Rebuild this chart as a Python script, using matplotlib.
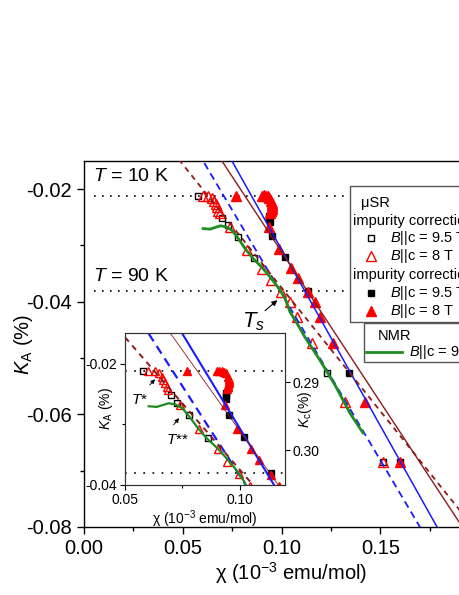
import numpy as np
import matplotlib
matplotlib.use("Agg")
import matplotlib.pyplot as plt
from matplotlib.lines import Line2D
from matplotlib.patches import Rectangle
from matplotlib.ticker import FormatStrFormatter, MultipleLocator

plt.rcParams['font.family'] = ['Liberation Sans', 'DejaVu Sans']
plt.rcParams['mathtext.fontset'] = 'custom'
plt.rcParams['mathtext.rm'] = 'Liberation Sans'
plt.rcParams['mathtext.it'] = 'Liberation Sans:italic'
plt.rcParams['mathtext.bf'] = 'Liberation Sans:bold'
plt.rcParams['axes.unicode_minus'] = False

# ---------------- data ----------------
# open symbols (muSR, impurity corrected)
open_sq_chi = [0.0578, 0.0701, 0.0728, 0.0778, 0.0863, 0.1230, 0.1514]
open_sq_K = [-0.0212, -0.0252, -0.0264, -0.0285, -0.0322, -0.0527, -0.0685]
open_tri_chi = [0.0601, 0.0630, 0.0649, 0.0660, 0.0667, 0.0674, 0.0681, 0.0688,
                0.0739, 0.0823, 0.0903, 0.0945, 0.0995, 0.1043, 0.1078, 0.1154,
                0.1322, 0.1514]
open_tri_K = [-0.0212, -0.0212, -0.0215, -0.0221, -0.0226, -0.0232, -0.0238, -0.0243,
              -0.0268, -0.0308, -0.0341, -0.0362, -0.0382, -0.0401, -0.0427, -0.0474,
              -0.0578, -0.0685]
# filled symbols (muSR, second set)
fill_sq_chi = [0.0938, 0.0938, 0.0940, 0.0952, 0.1018, 0.1134, 0.1342, 0.1600]
fill_sq_K = [-0.0248, -0.0252, -0.0258, -0.0284, -0.0321, -0.0381, -0.0527, -0.0685]
fill_tri_chi = [0.0770, 0.0900, 0.0910, 0.0922, 0.0930, 0.0938, 0.0949, 0.0953,
                0.0954, 0.0952, 0.0950, 0.0947, 0.0943, 0.0935, 0.0987, 0.1048,
                0.1084, 0.1134, 0.1170, 0.1195, 0.1261, 0.1423, 0.1600]
fill_tri_K = [-0.0212, -0.0212, -0.0211, -0.0212, -0.0213, -0.0215, -0.0221, -0.0225,
              -0.0228, -0.0232, -0.0235, -0.0238, -0.0242, -0.0268, -0.0307, -0.0340,
              -0.0358, -0.0383, -0.0401, -0.0427, -0.0474, -0.0578, -0.0685]
# NMR curve
nmr_chi = [0.0603, 0.0638, 0.0673, 0.0690, 0.0719, 0.0749, 0.0780, 0.0815, 0.0856,
           0.0901, 0.0942, 0.0982, 0.1018, 0.1043, 0.1078, 0.1119, 0.1195, 0.1271,
           0.1347, 0.1413]
nmr_K = [-0.0270, -0.0271, -0.0267, -0.0265, -0.0267, -0.0273, -0.0287, -0.0305,
         -0.0323, -0.0339, -0.0356, -0.0374, -0.0394, -0.0418, -0.0438, -0.0463,
         -0.0504, -0.0548, -0.0598, -0.0633]
# linear fits  K = a + b*chi
fit_a = [0.0319, 0.0207, 0.0223, 0.0063]
fit_b = [-0.626, -0.592, -0.534, -0.438]
fit_color = ['#1a1aff', '#1a1aff', '#8b1a1a', '#8b1a1a']
fit_style = ['-', (0, (4, 2.6)), '-', (0, (3, 2.6))]
# reference temperatures
K_10K = -0.0212
K_90K = -0.0381

BLUE = '#1a1aff'
RED = '#ff0000'
GREEN = '#1e8c1e'

W, H = 460, 595
fig = plt.figure(figsize=(W / 100, H / 100), dpi=100)


def fx(px):
    return px / W


def fy(py):
    return 1 - py / H


ax = fig.add_axes([fx(84), fy(527), 395 / W, 366 / H])
ax.set_xlim(0, 0.2)
ax.set_ylim(-0.08, -0.015)

xs = np.linspace(0, 0.2, 200)
lws = [1.1, 1.3, 1.0, 1.3]
for a, b, c, s, lw in zip(fit_a, fit_b, fit_color, fit_style, lws):
    ax.plot(xs, a + b * xs, color=c, ls=s, lw=lw, zorder=4)

ax.hlines([K_10K, K_90K], 0.005, 0.2, colors='k', linestyles=[(0, (1, 3.8))], lw=1.2, zorder=1)

ms_sq, ms_tri = 5, 6.5
ax.plot(open_sq_chi, open_sq_K, 's', ms=ms_sq, mfc='none', mec='k', mew=1.0, zorder=3)
ax.plot(open_tri_chi, open_tri_K, '^', ms=ms_tri, mfc='none', mec=RED, mew=1.0, zorder=3)
ax.plot(fill_sq_chi, fill_sq_K, 's', ms=ms_sq, mfc='k', mec='k', zorder=3)
ax.plot(fill_tri_chi, fill_tri_K, '^', ms=ms_tri, mfc=RED, mec=RED, zorder=3)
ax.plot(nmr_chi, nmr_K, '-', color=GREEN, lw=2.0, zorder=5)

ax.text(0.0046, -0.0177, '$T$ = 10 K', fontsize=14, va='center', ha='left')
ax.text(0.0046, -0.0356, '$T$ = 90 K', fontsize=14, va='center', ha='left')
ax.text(0.086, -0.0436, '$T_s$', fontsize=16, va='center', ha='center')
ax.annotate('', xy=(0.0990, -0.0394), xytext=(0.0906, -0.0419),
            arrowprops=dict(arrowstyle='-|>', color='k', lw=0.8, mutation_scale=8))

ax.xaxis.set_major_locator(MultipleLocator(0.05))
ax.xaxis.set_minor_locator(MultipleLocator(0.025))
ax.yaxis.set_major_locator(MultipleLocator(0.02))
ax.yaxis.set_minor_locator(MultipleLocator(0.01))
ax.xaxis.set_major_formatter(FormatStrFormatter('%.2f'))
ax.yaxis.set_major_formatter(FormatStrFormatter('%.2f'))
ax.tick_params(which='major', direction='out', length=5, width=1.0, labelsize=14.5)
ax.tick_params(which='minor', direction='out', length=3, width=1.0)
for sp in ax.spines.values():
    sp.set_linewidth(1.0)
ax.set_xlabel('χ (10$^{-3}$ emu/mol)', fontsize=14.5)
ax.xaxis.set_label_coords(0.525, -0.09)
ax.set_ylabel('$K$$_\\mathrm{A}$ (%)', fontsize=14.5)
ax.yaxis.set_label_coords(-0.125, 0.5)

# ---------------- inset ----------------
ia = fig.add_axes([fx(125), fy(485), 160 / W, 152 / H])
ia.set_facecolor('white')
ia.set_xlim(0.05, 0.1196)
ia.set_ylim(-0.04, -0.0149)
xi = np.linspace(0.05, 0.12, 100)
ilws = [1.5, 1.6, 0.6, 1.4]
for a, b, c, s, lw in zip(fit_a, fit_b, fit_color, fit_style, ilws):
    ia.plot(xi, a + b * xi, color=c, ls=s, lw=lw, zorder=4)
ia.hlines([K_10K, K_90K], 0.05, 0.12, colors='k', linestyles=[(0, (1, 4.5))], lw=1.2, zorder=1)
ms_sq_i, ms_tri_i = 4.5, 6
ia.plot(open_sq_chi, open_sq_K, 's', ms=ms_sq_i, mfc='none', mec='k', mew=1.0, zorder=3)
ia.plot(open_tri_chi, open_tri_K, '^', ms=ms_tri_i, mfc='none', mec=RED, mew=1.0, zorder=3)
ia.plot(fill_sq_chi, fill_sq_K, 's', ms=ms_sq_i, mfc='k', mec='k', zorder=3)
ia.plot(fill_tri_chi, fill_tri_K, '^', ms=ms_tri_i, mfc=RED, mec=RED, zorder=3)
ia.plot(nmr_chi, nmr_K, '-', color=GREEN, lw=1.6, zorder=5)

ia.text(0.0565, -0.0260, '$T$*', fontsize=11, ha='center', va='center')
ia.annotate('', xy=(0.0639, -0.0222), xytext=(0.0600, -0.0238),
            arrowprops=dict(arrowstyle='-|>', color='k', lw=0.7, mutation_scale=6))
ia.text(0.0726, -0.0326, '$T$**', fontsize=11, ha='center', va='center')
ia.annotate('', xy=(0.0743, -0.0286), xytext=(0.0704, -0.0304),
            arrowprops=dict(arrowstyle='-|>', color='k', lw=0.7, mutation_scale=6))

ia.xaxis.set_major_locator(MultipleLocator(0.05))
ia.xaxis.set_minor_locator(MultipleLocator(0.025))
ia.yaxis.set_major_locator(MultipleLocator(0.02))
ia.yaxis.set_minor_locator(MultipleLocator(0.01))
ia.xaxis.set_major_formatter(FormatStrFormatter('%.2f'))
ia.yaxis.set_major_formatter(FormatStrFormatter('%.2f'))
ia.tick_params(which='major', direction='out', length=3.5, width=0.8, labelsize=10, pad=2)
ia.tick_params(which='minor', direction='out', length=2, width=0.8)
for sp in ia.spines.values():
    sp.set_linewidth(0.8)
    sp.set_edgecolor('#333333')
ia.set_xlabel('χ (10$^{-3}$ emu/mol)', fontsize=10, labelpad=1)
ia.set_ylabel('$K$$_\\mathrm{A}$ (%)', fontsize=10)
ia.yaxis.set_label_coords(-0.065, 0.5)

ir = ia.twinx()
ir.set_ylim(0.3051, 0.2828)
ir.set_yticks([0.29, 0.30])
ir.yaxis.set_major_formatter(FormatStrFormatter('%.2f'))
ir.tick_params(which='major', direction='out', length=3.5, width=0.8, labelsize=10, pad=2)
ir.set_ylabel('$K$$_\\mathrm{c}$(%)', fontsize=10)
ir.yaxis.set_label_coords(1.07, 0.5)
for sp in ir.spines.values():
    sp.set_linewidth(0.8)
    sp.set_edgecolor('#333333')

# ---------------- legends (drawn by hand) ----------------
fig.add_artist(Rectangle((fx(350), fy(322)), fx(520) - fx(350), fy(186) - fy(322),
                         transform=fig.transFigure, fc='white', ec='#555555', lw=1.0, zorder=6))
LFS = 10.5
fig.text(fx(361), fy(203), 'μSR', fontsize=LFS, va='center', ha='left', zorder=7)
fig.text(fx(353), fy(221), 'impurity correction', fontsize=LFS, va='center', ha='left', zorder=7)
fig.text(fx(353), fy(275), 'impurity correction', fontsize=LFS, va='center', ha='left', zorder=7)
leg_rows = [
    (238, 's', 'none', 'k', '$B$||c = 9.5 T'),
    (256, '^', 'none', RED, '$B$||c = 8 T'),
    (293, 's', 'k', 'k', '$B$||c = 9.5 T'),
    (311, '^', RED, RED, '$B$||c = 8 T'),
]
for py, m, fc, ec, lab in leg_rows:
    fig.add_artist(Line2D([fx(371)], [fy(py)], transform=fig.transFigure, marker=m,
                          ms=5 if m == 's' else 6.5, mfc=fc, mec=ec, mew=1.0, ls='none', zorder=7))
    fig.text(fx(390), fy(py), lab, fontsize=LFS, va='center', ha='left', zorder=7)

fig.add_artist(Rectangle((fx(364), fy(362)), fx(520) - fx(364), fy(323) - fy(362),
                         transform=fig.transFigure, fc='white', ec='#555555', lw=1.0, zorder=6))
fig.text(fx(378), fy(336), 'NMR', fontsize=LFS, va='center', ha='left', zorder=7)
fig.add_artist(Line2D([fx(366), fx(402)], [fy(352), fy(352)], transform=fig.transFigure,
                      color=GREEN, lw=2.0, zorder=7))
fig.text(fx(409), fy(352), '$B$||c = 9 T', fontsize=LFS, va='center', ha='left', zorder=7)

fig.savefig('out.png', dpi=100)
